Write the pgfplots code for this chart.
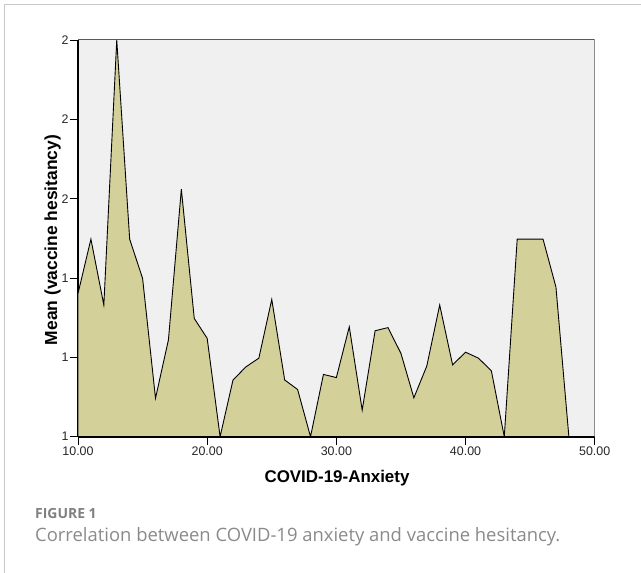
\documentclass[border=0pt]{standalone}
\usepackage{fontspec}
\setmainfont{Liberation Sans}
\newfontfamily\capfont{Open Sans}
\usepackage{pgfplots}
\pgfplotsset{compat=1.18}
\usepackage{pgfplotstable}
\definecolor{areafill}{RGB}{212,208,154}
\definecolor{plotbg}{RGB}{240,240,240}
\definecolor{framegray}{RGB}{200,200,200}
\definecolor{capgray}{RGB}{128,128,128}
\definecolor{capgraylight}{RGB}{138,138,138}
\pgfplotstableread{
x y
10 1.361
11 1.498
12 1.332
13 2.000
14 1.498
15 1.399
16 1.097
17 1.244
18 1.624
19 1.298
20 1.248
21 1.000
22 1.143
23 1.176
24 1.198
25 1.346
26 1.143
27 1.119
28 1.000
29 1.157
30 1.149
31 1.277
32 1.067
33 1.267
34 1.275
35 1.210
36 1.098
37 1.178
38 1.332
39 1.181
40 1.213
41 1.198
42 1.166
43 1.000
44 1.498
45 1.498
46 1.498
47 1.377
48 1.000
}\datatable
\begin{document}
\begin{tikzpicture}[x=1bp,y=1bp]
\path[use as bounding box] (0,0) rectangle (641,573);
\draw[framegray, line width=0.9bp] (4.5,0) -- (4.5,568.5) -- (641,568.5);
\begin{axis}[
  at={(78bp,136.3bp)}, anchor=south west,
  width=516.7bp, height=396.7bp, scale only axis,
  xmin=10, xmax=50, ymin=1, ymax=2,
  axis lines*=left,
  axis line style={black, line width=1.8bp},
  axis background/.style={fill=plotbg},
  xtick={10,20,30,40,50},
  xticklabels={10.00,20.00,30.00,40.00,50.00},
  ytick={1,1.2,1.4,1.6,1.8,2},
  yticklabels={1,1,1,2,2,2},
  tick align=outside,
  major tick length=8bp,
  tick style={black, line width=0.8bp},
  ticklabel style={font=\fontsize{12.5}{14}\selectfont, text=black!85},
  yticklabel style={xshift=2bp},
  xticklabel style={yshift=1bp},
  clip=true,
]
\addplot[fill=areafill, draw=black, line width=0.9bp] table[x=x,y=y] {\datatable} \closedcycle;
\draw[black!65, line width=1bp] (rel axis cs:0,1) -- (rel axis cs:1,1) -- (rel axis cs:1,0);
\end{axis}
\node[anchor=base, font=\bfseries\fontsize{17}{20}\selectfont] at (337,90) {COVID-19-Anxiety};
\node[rotate=90, anchor=base, font=\bfseries\fontsize{17.5}{20}\selectfont] at (57,333) {Mean (vaccine hesitancy)};
\node[anchor=base west, inner sep=0, text=capgray, font=\capfont\bfseries\fontsize{14}{16}\selectfont] at (35,54) {FIGURE 1};
\node[anchor=base west, inner sep=0, text=capgraylight, font=\capfont\fontsize{18.5}{21}\selectfont] at (35,31.3) {Correlation between COVID-19 anxiety and vaccine hesitancy.};
\end{tikzpicture}
\end{document}
